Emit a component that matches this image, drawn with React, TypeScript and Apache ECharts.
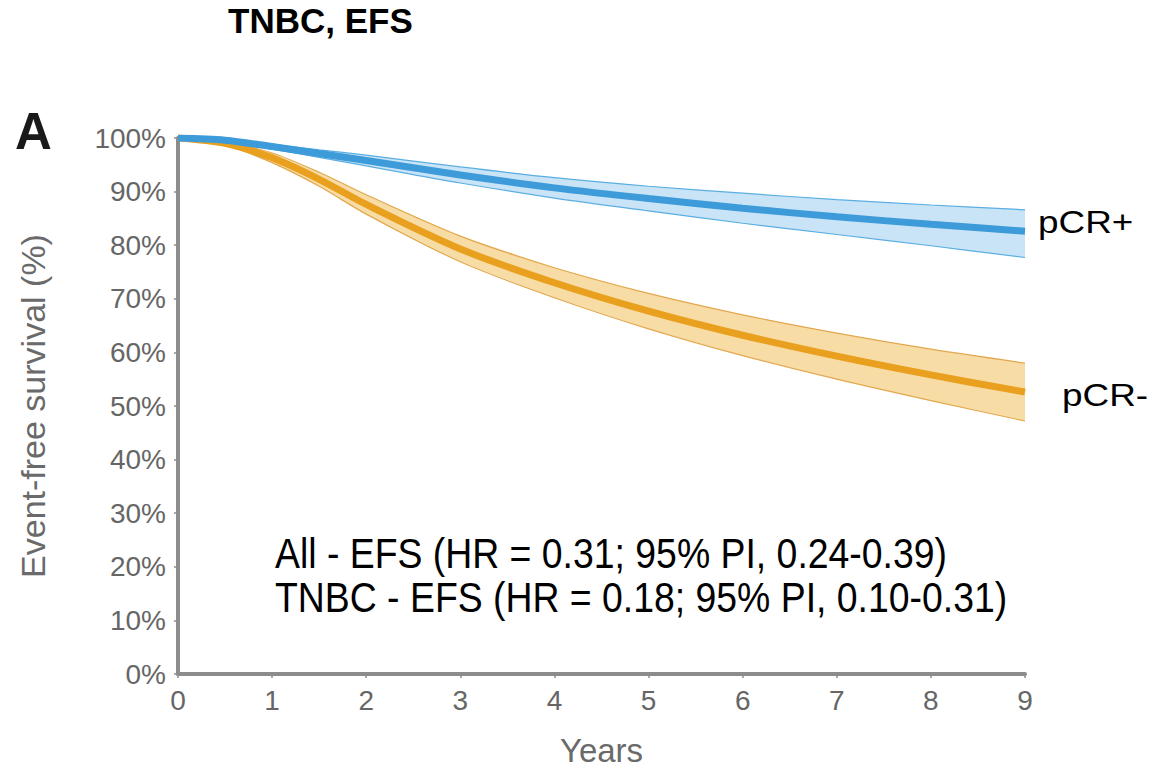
import React, { useEffect, useRef } from "react";
import * as echarts from "echarts";

const years = [0, 0.5, 1, 1.5, 2, 3, 4, 5, 6, 7, 8, 9];
const xTicks = [0, 1, 2, 3, 4, 5, 6, 7, 8, 9];

const pcrPosMean = [100, 99.6, 98.4, 97.1, 95.8, 93.1, 90.7, 88.7, 86.9, 85.3, 83.9, 82.6];
const pcrPosUpper = [100, 99.8, 98.8, 97.8, 96.8, 94.6, 92.6, 91.0, 89.7, 88.5, 87.5, 86.6];
const pcrPosLower = [100, 99.4, 97.9, 96.4, 94.8, 91.6, 88.8, 86.4, 84.1, 82.0, 79.9, 77.7];

const pcrNegMean = [100, 99.0, 96.3, 92.3, 87.6, 79.3, 73.0, 67.7, 63.2, 59.3, 55.8, 52.6];
const pcrNegUpper = [100, 99.3, 97.2, 93.6, 89.4, 81.7, 75.8, 71.0, 67.0, 63.6, 60.6, 58.0];
const pcrNegLower = [100, 98.7, 95.4, 91.0, 85.8, 76.9, 70.2, 64.4, 59.4, 55.0, 51.0, 47.2];

const seriesLabels = ["pCR+", "pCR-"];
const annotations = [
  "All - EFS (HR = 0.31; 95% PI, 0.24-0.39)",
  "TNBC - EFS (HR = 0.18; 95% PI, 0.10-0.31)",
];
const title = "TNBC, EFS";
const panelLetter = "A";
const yName = "Event-free survival (%)";
const xName = "Years";

const FONT = "'Liberation Sans', Arial, Helvetica, sans-serif";

function bandSeries(
  id: string,
  lower: number[],
  upper: number[],
  fill: string,
  edge: string
) {
  return [
    {
      name: id + "Fill",
      type: "custom",
      silent: true,
      z: 1,
      data: years.map((x, i) => [x, lower[i], upper[i]]),
      encode: { x: 0, y: [1, 2] },
      renderItem: (params: any, api: any) => {
        if (params.dataIndex !== 0) return null;
        const top = years.map((x, i) => api.coord([x, upper[i]]));
        const bottom = years.map((x, i) => api.coord([x, lower[i]])).reverse();
        return {
          type: "polygon",
          shape: { points: top.concat(bottom) },
          style: { fill, stroke: "none" },
        };
      },
    },
    {
      name: id + "Low",
      type: "line",
      smooth: 0.3,
      symbol: "none",
      silent: true,
      lineStyle: { color: edge, width: 1.2 },
      data: years.map((x, i) => [x, lower[i]]),
      z: 2,
    },
    {
      name: id + "Up",
      type: "line",
      smooth: 0.3,
      symbol: "none",
      silent: true,
      lineStyle: { color: edge, width: 1.2 },
      data: years.map((x, i) => [x, upper[i]]),
      z: 2,
    },
  ];
}

function meanSeries(id: string, mean: number[], color: string) {
  return {
    name: id,
    type: "line",
    smooth: 0.3,
    symbol: "none",
    silent: true,
    lineStyle: { color, width: 7 },
    data: years.map((x, i) => [x, mean[i]]),
    z: 3,
  };
}

export default function App() {
  const ref = useRef<HTMLDivElement>(null);
  useEffect(() => {
    if (!ref.current) return;
    const chart = echarts.init(ref.current, undefined, { renderer: "svg" });
    const option: any = {
      animation: false,
      backgroundColor: "#ffffff",
      grid: { left: 178, right: 124, top: 138, bottom: 87, containLabel: false },
      xAxis: {
        type: "value",
        min: xTicks[0],
        max: xTicks[xTicks.length - 1],
        interval: 1,
        name: xName,
        nameLocation: "middle",
        nameGap: 60,
        nameTextStyle: { fontSize: 33, color: "#6a6a6a", fontFamily: FONT },
        axisLine: { show: true, lineStyle: { color: "#8c8c8c", width: 4 } },
        axisTick: { show: true, length: 4, lineStyle: { color: "#8c8c8c", width: 1.5 } },
        axisLabel: { fontSize: 28, color: "#666666", fontFamily: FONT, margin: 12 },
        splitLine: { show: false },
      },
      yAxis: {
        type: "value",
        min: 0,
        max: 100,
        interval: 10,
        name: yName,
        nameLocation: "middle",
        nameRotate: 90,
        nameGap: 128,
        nameTextStyle: { fontSize: 34, color: "#6a6a6a", fontFamily: FONT },
        axisLine: { show: true, lineStyle: { color: "#8c8c8c", width: 4 } },
        axisTick: { show: true, length: 4, lineStyle: { color: "#8c8c8c", width: 1.5 } },
        axisLabel: {
          fontSize: 28,
          color: "#666666",
          fontFamily: FONT,
          margin: 12,
          formatter: (v: number) => v + "%",
        },
        splitLine: { show: false },
      },
      series: [
        ...bandSeries("neg", pcrNegLower, pcrNegUpper, "#f8dca6", "#e2a84e"),
        meanSeries("negMean", pcrNegMean, "#e8a01e"),
        ...bandSeries("pos", pcrPosLower, pcrPosUpper, "#c8e4f6", "#5aaee2"),
        meanSeries("posMean", pcrPosMean, "#3c9bd8"),
      ],
      graphic: [
        {
          type: "text",
          x: 228,
          y: 3,
          style: { text: title, fontSize: 35, fontWeight: "bold", fill: "#000", fontFamily: FONT },
        },
        {
          type: "text",
          x: 15,
          y: 106,
          style: { text: panelLetter, fontSize: 51, fontWeight: "bold", fill: "#1a1a1a", fontFamily: FONT },
        },
        {
          type: "text",
          x: 1038,
          y: 207,
          scaleX: 1.19,
          style: { text: seriesLabels[0], fontSize: 31, fill: "#000", fontFamily: FONT },
        },
        {
          type: "text",
          x: 1062,
          y: 380,
          scaleX: 1.19,
          style: { text: seriesLabels[1], fontSize: 31, fill: "#000", fontFamily: FONT },
        },
        {
          type: "text",
          x: 275,
          y: 532,
          scaleX: 0.89,
          style: { text: annotations[0], fontSize: 42, fill: "#000", fontFamily: FONT },
        },
        {
          type: "text",
          x: 275,
          y: 576,
          scaleX: 0.89,
          style: { text: annotations[1], fontSize: 42, fill: "#000", fontFamily: FONT },
        },
      ],
    };
    chart.setOption(option);
    return () => chart.dispose();
  }, []);
  return (
    <div
      ref={ref}
      style={{ position: "fixed", left: 0, top: 0, width: 1149, height: 772, background: "#fff" }}
    />
  );
}
